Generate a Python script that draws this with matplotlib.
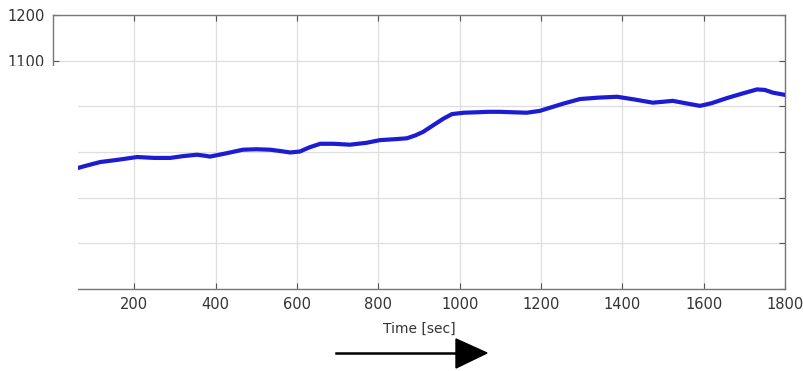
import matplotlib
matplotlib.use("Agg")
import matplotlib.pyplot as plt
from matplotlib.patches import Rectangle, Polygon

# Data
time_s = [61, 90, 116, 160, 207, 250, 288, 320, 354, 372, 386, 420, 467, 500, 534, 560,
          583, 607, 630, 657, 690, 730, 770, 804, 840, 870, 890, 910, 934, 960, 981,
          1010, 1043, 1070, 1099, 1130, 1165, 1197, 1215, 1255, 1296, 1340, 1387,
          1430, 1475, 1500, 1524, 1560, 1591, 1620, 1657, 1695, 1731, 1750, 1770, 1800]
values = [865, 872, 878, 883, 889, 887, 887, 891, 894, 892, 890, 896, 905, 906, 905, 902,
          899, 901, 910, 918, 918, 916, 920, 926, 928, 930, 936, 944, 958, 973, 983,
          986, 987, 988, 988, 987, 986, 990, 995, 1006, 1016, 1019, 1021, 1015,
          1008, 1010, 1012, 1006, 1001, 1007, 1018, 1028, 1037, 1036, 1030, 1025]
x_ticks = [200, 400, 600, 800, 1000, 1200, 1400, 1600, 1800]
y_ticks = [600, 700, 800, 900, 1000, 1100, 1200]
y_tick_labels = ["", "", "", "", "", "1100", "1200"]
x_label = "Time [sec]"

W, H = 804, 371
fig = plt.figure(figsize=(W / 100, H / 100), dpi=100)
ax = fig.add_axes([53 / W, 1 - 289 / H, (785 - 53) / W, (289 - 15) / H])

ax.plot(time_s, values, color="#1c1cd2", lw=3.0, solid_capstyle="round",
        solid_joinstyle="round", zorder=3)

ax.set_xlim(0, 1800)
ax.set_ylim(600, 1200)
ax.set_xticks(x_ticks)
ax.set_yticks(y_ticks)
ax.set_yticklabels(y_tick_labels)
ax.grid(True, color="#dedede", lw=0.9, linestyle="-")
ax.set_axisbelow(True)
ax.tick_params(direction="in", top=True, right=True, length=4, color="#555555",
               labelsize=10.5, labelcolor="#333333", pad=6)
for s in ax.spines.values():
    s.set_color("#777777")
    s.set_linewidth(1.0)
ax.set_xlabel(x_label, fontsize=10, color="#333333", labelpad=7)

# white patch covering the lower-left part of the frame (as in the reference)
ax.add_patch(Rectangle((-200, 500), 261, 588, facecolor="white", edgecolor="none",
                       clip_on=False, zorder=10))

# arrow below the axis
def fx(px):
    return px / W

def fy(py):
    return 1 - py / H

fig.add_artist(plt.Line2D([fx(336), fx(458)], [fy(353), fy(353)], color="black", lw=1.8,
                          transform=fig.transFigure))
fig.add_artist(Polygon([[fx(456), fy(339)], [fx(487), fy(353)], [fx(456), fy(368)]],
                       closed=True, facecolor="black", edgecolor="black",
                       transform=fig.transFigure))

fig.savefig("out.png", dpi=100)
